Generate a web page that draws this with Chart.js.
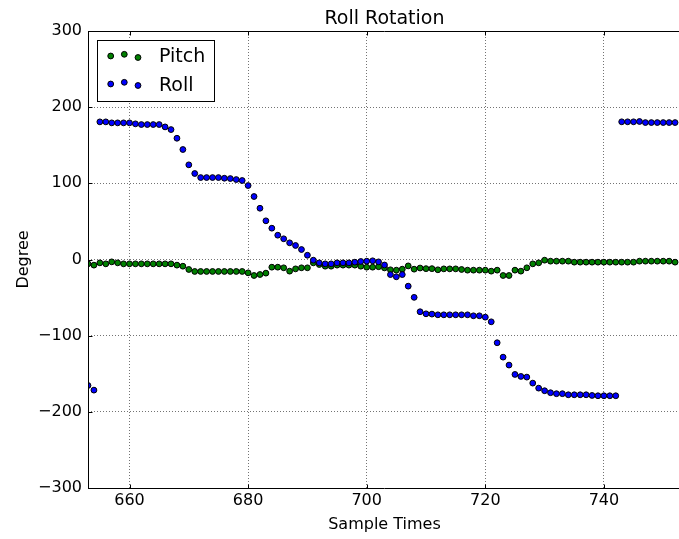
<!DOCTYPE html>
<html lang="en">
<head>
<meta charset="UTF-8">
<title>Roll Rotation</title>
<script src="https://cdn.jsdelivr.net/npm/chart.js"></script>
<style>
  body { margin: 0; overflow: hidden; background: #fff; }
  #wrap { width: 686px; height: 539px; }
</style>
</head>
<body>
<div id="wrap"><canvas id="rollChart"></canvas></div>
<script>
const sampleTimes = [
  653, 654, 655, 656, 657, 658, 659, 660, 661, 662, 663, 664, 665, 666, 667, 668, 669, 670, 671, 672,
  673, 674, 675, 676, 677, 678, 679, 680, 681, 682, 683, 684, 685, 686, 687, 688, 689, 690, 691, 692,
  693, 694, 695, 696, 697, 698, 699, 700, 701, 702, 703, 704, 705, 706, 707, 708, 709, 710, 711, 712,
  713, 714, 715, 716, 717, 718, 719, 720, 721, 722, 723, 724, 725, 726, 727, 728, 729, 730, 731, 732,
  733, 734, 735, 736, 737, 738, 739, 740, 741, 742, 743, 744, 745, 746, 747, 748, 749, 750, 751, 752
];
const pitch = [
  -5.7, -7.4, -4.4, -5.7, -3.1, -4.4, -5.7, -5.7, -5.7, -5.7, -5.7, -5.7, -5.7, -5.7, -5.7, -7.4, -8.8, -13.1, -15.7, -15.7,
  -15.7, -15.7, -15.7, -15.7, -15.7, -15.7, -15.7, -17.5, -21.0, -19.7, -17.9, -10.1, -10.1, -10.9, -15.3, -12.3, -10.9, -10.9, -4.4, -6.6,
  -8.8, -8.8, -7.4, -7.4, -7.4, -7.4, -8.8, -10.1, -10.1, -9.5, -11.0, -13.5, -14.0, -12.7, -8.4, -12.7, -11.2, -12.0, -12.0, -13.5,
  -12.3, -12.3, -12.3, -13.1, -14.0, -14.0, -14.0, -14.0, -15.3, -14.0, -21.0, -21.0, -14.0, -15.3, -10.9, -5.7, -4.4, -0.9, -2.2, -2.2,
  -2.2, -2.2, -3.5, -3.5, -3.5, -3.5, -3.5, -3.5, -3.5, -3.5, -3.5, -3.5, -3.5, -2.2, -2.2, -2.2, -2.2, -2.2, -2.2, -3.5
];
const roll = [
  -165.4, -171.5, 180.7, 180.7, 179.4, 179.4, 179.4, 179.4, 178.1, 177.2, 177.2, 177.2, 177.2, 174.1, 170.6, 159.2, 144.4, 124.3, 112.9, 107.6,
  107.6, 107.6, 107.6, 106.7, 106.3, 105.0, 103.7, 97.1, 82.7, 67.3, 50.8, 41.1, 31.9, 27.2, 21.9, 18.4, 13.1, 5.6, -0.9, -4.4,
  -5.7, -5.7, -4.4, -4.4, -4.4, -3.5, -2.6, -2.2, -1.7, -3.1, -7.2, -19.8, -22.7, -19.8, -35.0, -49.7, -68.6, -71.3, -71.7, -72.6,
  -72.6, -72.6, -72.6, -72.6, -72.6, -73.9, -73.9, -75.7, -81.8, -109.3, -128.2, -138.6, -150.9, -153.5, -154.4, -162.3, -168.9, -172.3, -174.9, -176.2,
  -176.2, -177.6, -177.6, -177.6, -177.6, -178.5, -178.9, -178.9, -178.9, -178.9, 180.8, 180.8, 180.8, 181.2, 179.8, 179.8, 179.8, 179.8, 179.8, 179.8
];
const xTicks = [660, 680, 700, 720, 740];
const yTicks = [-300, -200, -100, 0, 100, 200, 300];

const pitchColor = '#008000';
const rollColor = '#0000ff';
const dotRadius = 2.9;

Chart.defaults.font.family = "'DejaVu Sans', sans-serif";
Chart.defaults.color = '#000';

function toPoints(values) {
  return sampleTimes.map((t, i) => ({ x: t, y: values[i] }));
}

function dot(ctx, x, y, color) {
  ctx.beginPath();
  ctx.arc(x, y, dotRadius, 0, Math.PI * 2);
  ctx.fillStyle = color;
  ctx.fill();
  ctx.lineWidth = 1;
  ctx.strokeStyle = '#000';
  ctx.stroke();
}

// spines, inward ticks, title and a matplotlib-style legend box
const frame = {
  id: 'frame',
  afterDraw(chart) {
    const { ctx, chartArea: a, scales } = chart;
    ctx.save();
    ctx.setLineDash([]);
    ctx.strokeStyle = '#000';
    ctx.lineWidth = 1;

    const top = Math.round(a.top) + 0.5;
    const bottom = Math.round(a.bottom) + 0.5;
    const left = Math.round(a.left) + 0.5;
    ctx.beginPath();
    ctx.moveTo(a.left, top); ctx.lineTo(a.right, top);
    ctx.moveTo(a.left, bottom); ctx.lineTo(a.right, bottom);
    ctx.moveTo(left, a.top); ctx.lineTo(left, a.bottom);

    xTicks.forEach(v => {
      const px = Math.round(scales.x.getPixelForValue(v)) + 0.5;
      ctx.moveTo(px, bottom); ctx.lineTo(px, bottom - 4);
      ctx.moveTo(px, top); ctx.lineTo(px, top + 4);
    });
    yTicks.forEach(v => {
      const py = Math.round(scales.y.getPixelForValue(v)) + 0.5;
      ctx.moveTo(left, py); ctx.lineTo(left + 4, py);
    });
    ctx.stroke();

    ctx.fillStyle = '#000';
    ctx.font = "19px 'DejaVu Sans'";
    ctx.textAlign = 'center';
    ctx.textBaseline = 'alphabetic';
    ctx.fillText('Roll Rotation', (a.left + a.right) / 2, 24);

    const bx = a.left + 9.5, by = a.top + 9.5;
    ctx.fillStyle = '#fff';
    ctx.fillRect(bx, by, 117, 61);
    ctx.strokeRect(bx, by, 117, 61);

    const entries = [
      { label: 'Pitch', color: pitchColor, row: 15.5, base: 21.8 },
      { label: 'Roll', color: rollColor, row: 43.5, base: 50.2 }
    ];
    const jitter = [[13.2, 0], [26.8, -1.7], [40.5, 1.5]];
    ctx.font = "19px 'DejaVu Sans'";
    ctx.textAlign = 'left';
    entries.forEach(e => {
      jitter.forEach(([dx, dy]) => dot(ctx, bx + dx, by + e.row + dy, e.color));
      ctx.fillStyle = '#000';
      ctx.fillText(e.label, bx + 61.5, by + e.base);
    });
    ctx.restore();
  }
};

const gridStyle = { color: 'rgba(0,0,0,0.55)', lineWidth: 1, drawTicks: false };
const borderStyle = { display: false, dash: [1, 2] };

new Chart(document.getElementById('rollChart'), {
  type: 'scatter',
  data: {
    datasets: [
      {
        label: 'Roll',
        data: toPoints(roll),
        backgroundColor: rollColor,
        borderColor: '#000',
        borderWidth: 1,
        pointRadius: dotRadius,
        clip: 0
      },
      {
        label: 'Pitch',
        data: toPoints(pitch),
        backgroundColor: pitchColor,
        borderColor: '#000',
        borderWidth: 1,
        pointRadius: dotRadius,
        clip: 0
      }
    ]
  },
  options: {
    responsive: true,
    maintainAspectRatio: false,
    animation: false,
    layout: { padding: { top: 31, right: 1, left: 0, bottom: 0 } },
    plugins: {
      legend: { display: false },
      tooltip: { enabled: false }
    },
    scales: {
      x: {
        type: 'linear',
        min: 653,
        max: 753,
        afterBuildTicks: s => { s.ticks = xTicks.map(v => ({ value: v })); },
        afterFit: s => { s.height = 51; },
        grid: gridStyle,
        border: borderStyle,
        ticks: { font: { size: 16 }, padding: 3, maxRotation: 0 },
        title: { display: true, text: 'Sample Times', font: { size: 16 }, padding: { top: 0, bottom: 5 } }
      },
      y: {
        min: -300,
        max: 300,
        afterBuildTicks: s => { s.ticks = yTicks.map(v => ({ value: v })); },
        afterFit: s => { s.width = 88; },
        grid: gridStyle,
        border: borderStyle,
        ticks: {
          font: { size: 16 },
          padding: 6,
          callback: v => String(v).replace('-', '\u2212')
        },
        title: { display: true, text: 'Degree', font: { size: 16 }, padding: { top: 14, bottom: 0 } }
      }
    }
  },
  plugins: [frame]
});
</script>
</body>
</html>
